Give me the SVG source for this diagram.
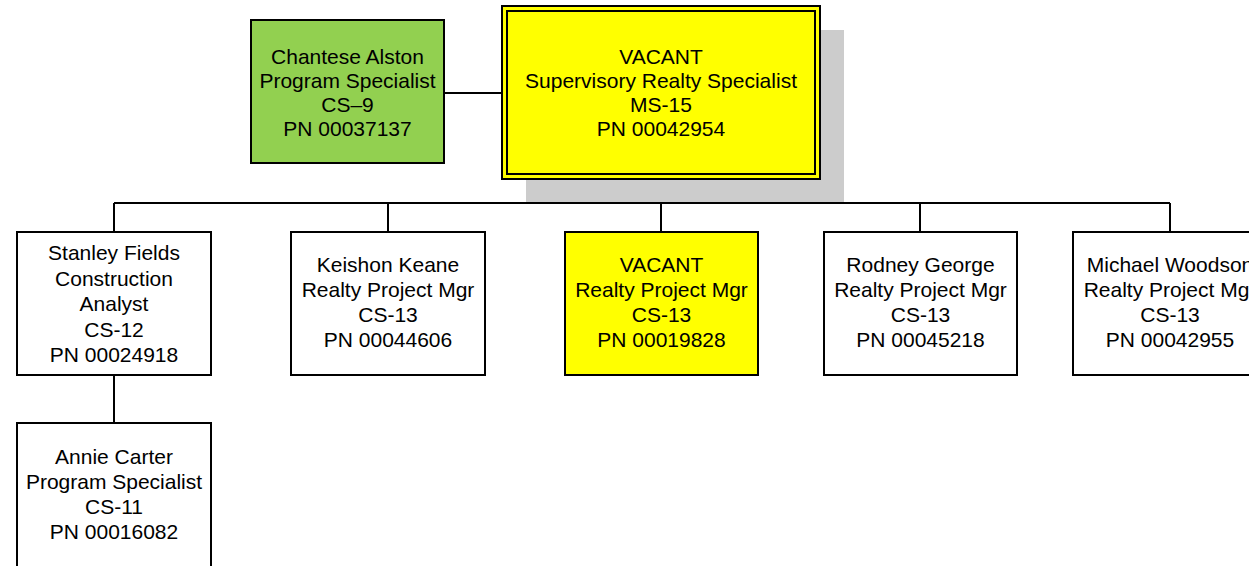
<svg xmlns="http://www.w3.org/2000/svg" width="1249" height="566" viewBox="0 0 1249 566">
<style>
.box{fill:#ffffff;stroke:#000000;stroke-width:2}
.yel{fill:#ffff00}
.grn{fill:#92d050}
.conn{stroke:#000000;stroke-width:2;fill:none}
text{font-family:"Liberation Sans",Arial,sans-serif;font-size:21px;fill:#000000;text-anchor:middle}
</style>
<rect width="1249" height="566" fill="#ffffff"/>
<g id="connectors">
<path class="conn" d="M444 93 H502"/>
<path class="conn" d="M661 179 V203"/>
</g>
<g id="shadow"><rect x="526" y="30" width="318" height="172" fill="#cccccc"/></g>
<g id="connectors2">
<path class="conn" d="M114 203 H1170"/>
<path class="conn" d="M114 203 V232 M388 203 V232 M661 203 V232 M920 203 V232 M1170 203 V232"/>
<path class="conn" d="M114 375 V423"/>
</g>
<g id="n-alston">
<rect class="box grn" x="251" y="20" width="193" height="143"/>
<text x="347.5" y="64">Chantese Alston</text>
<text x="347.5" y="88">Program Specialist</text>
<text x="347.5" y="112">CS–9</text>
<text x="347.5" y="136">PN 00037137</text>
</g>
<g id="n-vacant-sup">
<rect class="box yel" x="502" y="6" width="318" height="173" stroke-width="2"/>
<rect x="507" y="11" width="308" height="163" fill="none" stroke="#000000" stroke-width="2"/>
<text x="661" y="64">VACANT</text>
<text x="661" y="88">Supervisory Realty Specialist</text>
<text x="661" y="112">MS-15</text>
<text x="661" y="136">PN 00042954</text>
</g>
<g id="n-fields">
<rect class="box" x="17" y="232" width="194" height="143"/>
<text x="114" y="260">Stanley Fields</text>
<text x="114" y="285.5">Construction</text>
<text x="114" y="311">Analyst</text>
<text x="114" y="336.5">CS-12</text>
<text x="114" y="362">PN 00024918</text>
</g>
<g id="n-keane">
<rect class="box" x="291" y="232" width="194" height="143"/>
<text x="388" y="272">Keishon Keane</text>
<text x="388" y="297">Realty Project Mgr</text>
<text x="388" y="322">CS-13</text>
<text x="388" y="347">PN 00044606</text>
</g>
<g id="n-vacant-rpm">
<rect class="box yel" x="565" y="232" width="193" height="143"/>
<text x="661.5" y="272">VACANT</text>
<text x="661.5" y="297">Realty Project Mgr</text>
<text x="661.5" y="322">CS-13</text>
<text x="661.5" y="347">PN 00019828</text>
</g>
<g id="n-george">
<rect class="box" x="824" y="232" width="193" height="143"/>
<text x="920.5" y="272">Rodney George</text>
<text x="920.5" y="297">Realty Project Mgr</text>
<text x="920.5" y="322">CS-13</text>
<text x="920.5" y="347">PN 00045218</text>
</g>
<g id="n-woodson">
<rect class="box" x="1073" y="232" width="194" height="143"/>
<text x="1170" y="272">Michael Woodson</text>
<text x="1170" y="297">Realty Project Mgr</text>
<text x="1170" y="322">CS-13</text>
<text x="1170" y="347">PN 00042955</text>
</g>
<g id="n-carter">
<rect class="box" x="17" y="423" width="194" height="160"/>
<text x="114" y="464">Annie Carter</text>
<text x="114" y="489">Program Specialist</text>
<text x="114" y="514">CS-11</text>
<text x="114" y="539">PN 00016082</text>
</g>
</svg>
